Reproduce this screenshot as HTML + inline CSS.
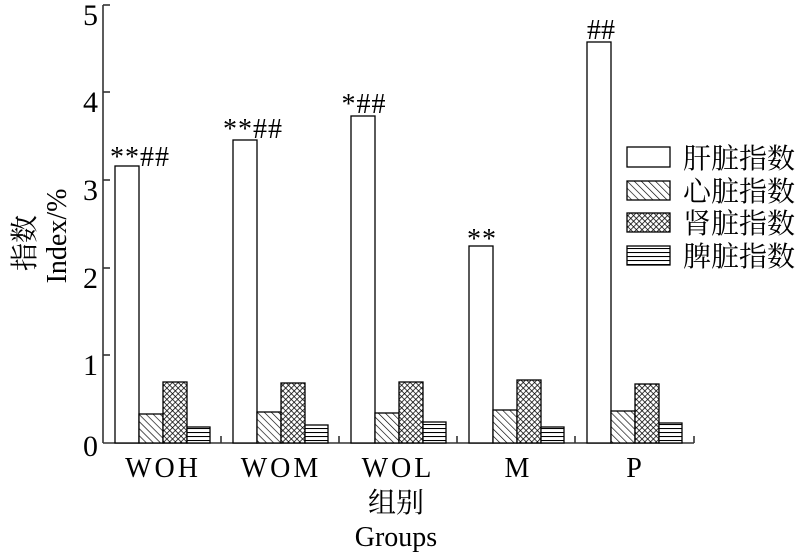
<!DOCTYPE html>
<html><head><meta charset="utf-8"><style>html,body{margin:0;padding:0;background:#fff}</style></head>
<body>
<svg width="812" height="553" viewBox="0 0 812 553" xmlns="http://www.w3.org/2000/svg" font-family="'Liberation Serif','Noto Serif CJK SC',serif">
<defs>
<pattern id="diag" patternUnits="userSpaceOnUse" width="5" height="5" patternTransform="rotate(-45)">
<rect width="5" height="5" fill="#fff"/><line x1="0" y1="0" x2="0" y2="5" stroke="#000" stroke-width="1.3"/></pattern>
<pattern id="cross" patternUnits="userSpaceOnUse" width="4" height="4" patternTransform="rotate(45)">
<rect width="4" height="4" fill="#fff"/><line x1="0" y1="0" x2="0" y2="4" stroke="#000" stroke-width="1.5"/><line x1="0" y1="0" x2="4" y2="0" stroke="#000" stroke-width="1.5"/></pattern>
<pattern id="horiz" patternUnits="userSpaceOnUse" width="6" height="4">
<rect width="6" height="4" fill="#fff"/><line x1="0" y1="0.5" x2="6" y2="0.5" stroke="#000" stroke-width="1.1"/></pattern>
</defs>
<g stroke="#333" stroke-width="1.6" fill="none">
<line x1="103" y1="5" x2="103" y2="443"/>
<line x1="103" y1="443" x2="694" y2="443"/>
<line x1="103" y1="5" x2="110" y2="5"/>
<line x1="103" y1="92" x2="110" y2="92"/>
<line x1="103" y1="180" x2="110" y2="180"/>
<line x1="103" y1="268" x2="110" y2="268"/>
<line x1="103" y1="355" x2="110" y2="355"/>
<line x1="221" y1="443" x2="221" y2="436"/>
<line x1="339" y1="443" x2="339" y2="436"/>
<line x1="457" y1="443" x2="457" y2="436"/>
<line x1="575" y1="443" x2="575" y2="436"/>
<line x1="694" y1="443" x2="694" y2="436"/>
</g>
<g font-size="30" text-anchor="end" fill="#000">
<text x="98" y="25">5</text><text x="98" y="112">4</text><text x="98" y="200">3</text><text x="98" y="288">2</text><text x="98" y="375">1</text><text x="98" y="456">0</text>
</g>
<g stroke="#000" stroke-width="1.3">
<rect x="115" y="166" width="24" height="277" fill="#fff"/>
<rect x="139" y="414" width="24" height="29" fill="url(#diag)"/>
<rect x="163" y="382" width="24" height="61" fill="url(#cross)"/>
<rect x="187" y="427" width="23" height="16" fill="url(#horiz)"/>
<rect x="233" y="140" width="24" height="303" fill="#fff"/>
<rect x="257" y="412" width="24" height="31" fill="url(#diag)"/>
<rect x="281" y="383" width="24" height="60" fill="url(#cross)"/>
<rect x="305" y="425" width="23" height="18" fill="url(#horiz)"/>
<rect x="351" y="116" width="24" height="327" fill="#fff"/>
<rect x="375" y="413" width="24" height="30" fill="url(#diag)"/>
<rect x="399" y="382" width="24" height="61" fill="url(#cross)"/>
<rect x="423" y="422" width="23" height="21" fill="url(#horiz)"/>
<rect x="469" y="246" width="24" height="197" fill="#fff"/>
<rect x="493" y="410" width="24" height="33" fill="url(#diag)"/>
<rect x="517" y="380" width="24" height="63" fill="url(#cross)"/>
<rect x="541" y="427" width="23" height="16" fill="url(#horiz)"/>
<rect x="587" y="42" width="24" height="401" fill="#fff"/>
<rect x="611" y="411" width="24" height="32" fill="url(#diag)"/>
<rect x="635" y="384" width="24" height="59" fill="url(#cross)"/>
<rect x="659" y="423" width="23" height="20" fill="url(#horiz)"/>
</g>
<g font-size="28" text-anchor="middle" fill="#000">
<text x="140" y="166" letter-spacing="1">**##</text>
<text x="253" y="138" letter-spacing="1">**##</text>
<text x="364" y="113" letter-spacing="1">*##</text>
<text x="482" y="248" letter-spacing="1">**</text>
<text x="601" y="39">##</text>
</g>
<g font-size="28" text-anchor="middle" fill="#000">
<text x="163" y="477" letter-spacing="3">WOH</text>
<text x="281" y="477" letter-spacing="3">WOM</text>
<text x="398" y="477" letter-spacing="3">WOL</text>
<text x="517" y="477">M</text>
<text x="634" y="477">P</text>
<text x="396" y="512">组别</text>
<text x="396" y="546">Groups</text>
</g>
<g font-size="28" text-anchor="middle" fill="#000">
<text transform="translate(34,243) rotate(-90)">指数</text>
<text transform="translate(66,236) rotate(-90)">Index/%</text>
</g>
<g stroke="#000" stroke-width="1.3">
<rect x="627" y="147" width="43" height="20" fill="#fff"/>
<rect x="627" y="181" width="43" height="19" fill="url(#diag)"/>
<rect x="627" y="213" width="43" height="19" fill="url(#cross)"/>
<rect x="627" y="246" width="43" height="19" fill="url(#horiz)"/>
</g>
<g font-size="28" fill="#000">
<text x="683" y="168">肝脏指数</text>
<text x="683" y="201">心脏指数</text>
<text x="683" y="233">肾脏指数</text>
<text x="683" y="266">脾脏指数</text>
</g>
</svg>
</body></html>
